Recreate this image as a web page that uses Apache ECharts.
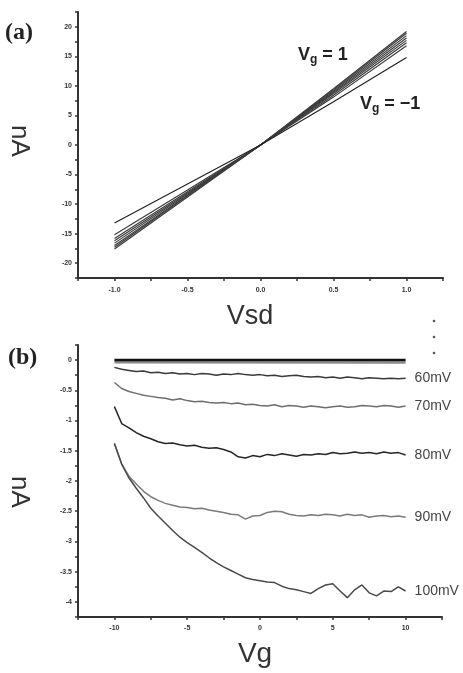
<!DOCTYPE html>
<html>
<head>
<meta charset="utf-8">
<script src="https://cdn.jsdelivr.net/npm/echarts@6/dist/echarts.min.js"></script>
<style>html,body{margin:0;padding:0;background:#fff;}#c{width:463px;height:673px;}</style>
</head>
<body>
<div id="c"></div>
<script>
// ---------- Panel (a): I–Vsd curves for several gate voltages ----------
const vsd = [-1, -0.5, 0, 0.5, 1];
const ivVgP100 = [-17.6, -8.8, 0, 9.5, 19.2];
const ivVgP075 = [-17.3, -8.6, 0, 9.3, 18.9];
const ivVgP050 = [-17.0, -8.5, 0, 9.1, 18.5];
const ivVgP025 = [-16.6, -8.3, 0, 8.9, 18.1];
const ivVg000  = [-16.2, -8.1, 0, 8.7, 17.7];
const ivVgM025 = [-15.8, -7.9, 0, 8.4, 17.3];
const ivVgM050 = [-15.2, -7.6, 0, 8.1, 16.8];
const ivVgM100 = [-13.2, -6.6, 0, 7.3, 14.8];
const ivCurves = [ivVgP100, ivVgP075, ivVgP050, ivVgP025, ivVg000, ivVgM025, ivVgM050, ivVgM100];

// ---------- Panel (b): I–Vg curves for several bias voltages ----------
const vg = [-10,-9.5,-9,-8.5,-8,-7.5,-7,-6.5,-6,-5.5,
            -5,-4.5,-4,-3.5,-3,-2.5,-2,-1.5,-1,-0.5,
            0,0.5,1,1.5,2,2.5,3,3.5,4,4.5,
            5,5.5,6,6.5,7,7.5,8,8.5,9,9.5,10];
const bandVg = [-10, 10];
const band40 = [0.0, 0.0];
const band50 = [-0.035, -0.04];
const mv60 = [-0.12,-0.15,-0.17,-0.19,-0.18,-0.21,-0.20,-0.22,-0.21,-0.23,
              -0.22,-0.24,-0.22,-0.23,-0.25,-0.23,-0.24,-0.22,-0.24,-0.25,
              -0.24,-0.26,-0.25,-0.27,-0.26,-0.25,-0.27,-0.28,-0.27,-0.29,
              -0.28,-0.30,-0.28,-0.29,-0.31,-0.29,-0.30,-0.31,-0.30,-0.31,-0.30];
const mv70 = [-0.37,-0.47,-0.52,-0.55,-0.58,-0.60,-0.62,-0.63,-0.66,-0.64,
              -0.67,-0.69,-0.68,-0.70,-0.71,-0.70,-0.72,-0.71,-0.74,-0.73,
              -0.75,-0.76,-0.74,-0.77,-0.75,-0.76,-0.78,-0.76,-0.77,-0.79,
              -0.77,-0.76,-0.78,-0.77,-0.75,-0.76,-0.77,-0.75,-0.76,-0.78,-0.76];
const mv80 = [-0.77,-1.05,-1.12,-1.20,-1.26,-1.30,-1.35,-1.38,-1.37,-1.40,
              -1.42,-1.41,-1.44,-1.46,-1.45,-1.48,-1.52,-1.60,-1.62,-1.58,
              -1.60,-1.56,-1.58,-1.55,-1.57,-1.59,-1.56,-1.57,-1.55,-1.56,
              -1.53,-1.55,-1.54,-1.52,-1.54,-1.53,-1.55,-1.52,-1.54,-1.53,-1.57];
const mv90 = [-1.38,-1.72,-1.92,-2.05,-2.17,-2.26,-2.32,-2.37,-2.40,-2.43,
              -2.44,-2.46,-2.45,-2.48,-2.50,-2.52,-2.55,-2.56,-2.63,-2.58,
              -2.57,-2.52,-2.50,-2.51,-2.55,-2.57,-2.58,-2.56,-2.57,-2.55,
              -2.56,-2.58,-2.55,-2.57,-2.56,-2.60,-2.58,-2.57,-2.59,-2.58,-2.60];
const mv100 = [-1.38,-1.72,-1.95,-2.12,-2.28,-2.45,-2.58,-2.70,-2.82,-2.93,
               -3.02,-3.10,-3.18,-3.27,-3.35,-3.42,-3.48,-3.54,-3.60,-3.63,
               -3.65,-3.67,-3.68,-3.74,-3.78,-3.80,-3.83,-3.86,-3.78,-3.72,
               -3.70,-3.82,-3.93,-3.80,-3.72,-3.85,-3.90,-3.82,-3.83,-3.75,-3.82];
const biasNames = ['60mV', '70mV', '80mV', '90mV', '100mV'];
const biasCurves = [mv60, mv70, mv80, mv90, mv100];
const biasColors = ['#3a3a3a', '#6e6e6e', '#262626', '#7a7a7a', '#4a4a4a'];

const FONT = 'Liberation Sans, Arial, sans-serif';
const pair = (xs, ys) => xs.map((x, i) => [x, ys[i]]);
const isMult = (v, m) => Math.abs(v / m - Math.round(v / m)) < 1e-6;

function axisBase() {
  return {
    type: 'value',
    axisLine: { show: true, onZero: false, lineStyle: { color: '#333', width: 2 } },
    axisTick: { show: true, inside: false, length: 3, lineStyle: { color: '#333', width: 1.5 } },
    splitLine: { show: false },
    axisLabel: { fontSize: 7, fontWeight: 'bold', color: '#333', fontFamily: FONT }
  };
}

const xa = axisBase();
Object.assign(xa, { gridIndex: 0, min: -1.25, max: 1.25, interval: 0.25 });
xa.axisLabel = Object.assign({}, xa.axisLabel, { margin: 9, formatter: v => isMult(v, 0.5) ? v.toFixed(1) : '' });
const ya = axisBase();
Object.assign(ya, { gridIndex: 0, min: -22.5, max: 22.5, interval: 2.5 });
ya.axisLabel = Object.assign({}, ya.axisLabel, { margin: 6, formatter: v => isMult(v, 5) ? String(Math.round(v)) : '' });
const xb = axisBase();
Object.assign(xb, { gridIndex: 1, min: -12.5, max: 12.5, interval: 2.5 });
xb.axisLabel = Object.assign({}, xb.axisLabel, { margin: 8, formatter: v => isMult(v, 5) ? String(Math.round(v)) : '' });
const yb = axisBase();
Object.assign(yb, { gridIndex: 1, min: -4.25, max: 0.25, interval: 0.25 });
yb.axisLabel = Object.assign({}, yb.axisLabel, { margin: 6, formatter: v => isMult(v, 0.5) ? String(v) : '' });

const series = [];
ivCurves.forEach((c, i) => {
  series.push({
    type: 'line', xAxisIndex: 0, yAxisIndex: 0, data: pair(vsd, c),
    symbol: 'none', silent: true,
    lineStyle: { color: i === ivCurves.length - 1 ? '#222' : '#3c3c3c', width: 1.2 }
  });
});
series.push({ type: 'line', xAxisIndex: 1, yAxisIndex: 1, data: pair(bandVg, band50), symbol: 'none',
  lineStyle: { color: '#8a8a8a', width: 2.5 } });
series.push({ type: 'line', xAxisIndex: 1, yAxisIndex: 1, data: pair(bandVg, band40), symbol: 'none',
  lineStyle: { color: '#111', width: 2.5 } });
biasCurves.forEach((c, i) => {
  series.push({
    type: 'line', xAxisIndex: 1, yAxisIndex: 1, data: pair(vg, c), symbol: 'none',
    lineStyle: { color: biasColors[i], width: 1.5 },
    endLabel: { show: true, formatter: biasNames[i], distance: 9, fontSize: 14,
      color: '#444', fontFamily: FONT }
  });
});

const subRich = {
  v: { fontSize: 18, fontWeight: 'bold', fontFamily: FONT, fill: '#222' },
  s: { fontSize: 12, fontWeight: 'bold', fontFamily: FONT, fill: '#222', padding: [10, 0, 0, 0] }
};

const option = {
  animation: false,
  backgroundColor: '#fff',
  grid: [
    { left: 78, top: 12, width: 365, height: 266 },
    { left: 78, top: 345, width: 364, height: 272 }
  ],
  xAxis: [xa, xb],
  yAxis: [ya, yb],
  series: series,
  graphic: [
    { type: 'text', left: 5, top: 21, style: { text: '(a)', font: 'bold 24px "Liberation Serif", serif', fill: '#222' } },
    { type: 'text', left: 8, top: 346, style: { text: '(b)', font: 'bold 24px "Liberation Serif", serif', fill: '#222' } },
    { type: 'text', x: 19, y: 141, rotation: -Math.PI / 2,
      style: { text: 'nA', font: '26px ' + FONT, fill: '#333', align: 'center', verticalAlign: 'middle' } },
    { type: 'text', x: 19, y: 492, rotation: -Math.PI / 2,
      style: { text: 'nA', font: '26px ' + FONT, fill: '#333', align: 'center', verticalAlign: 'middle' } },
    { type: 'text', x: 250, y: 317,
      style: { text: 'Vsd', font: '27px ' + FONT, fill: '#333', align: 'center', verticalAlign: 'middle' } },
    { type: 'text', x: 255, y: 654,
      style: { text: 'Vg', font: '28px ' + FONT, fill: '#333', align: 'center', verticalAlign: 'middle' } },
    { type: 'text', left: 298, top: 46, style: { text: '{v|V}{s|g}{v| = 1}', rich: subRich } },
    { type: 'text', left: 360, top: 95, style: { text: '{v|V}{s|g}{v| = \u22121}', rich: subRich } },
    { type: 'circle', shape: { cx: 434, cy: 321, r: 1.3 }, style: { fill: '#555' } },
    { type: 'circle', shape: { cx: 434, cy: 337, r: 1.3 }, style: { fill: '#555' } },
    { type: 'circle', shape: { cx: 434, cy: 353, r: 1.3 }, style: { fill: '#555' } }
  ]
};

const chart = echarts.init(document.getElementById('c'), null, { renderer: 'canvas' });
chart.setOption(option);
</script>
</body>
</html>
